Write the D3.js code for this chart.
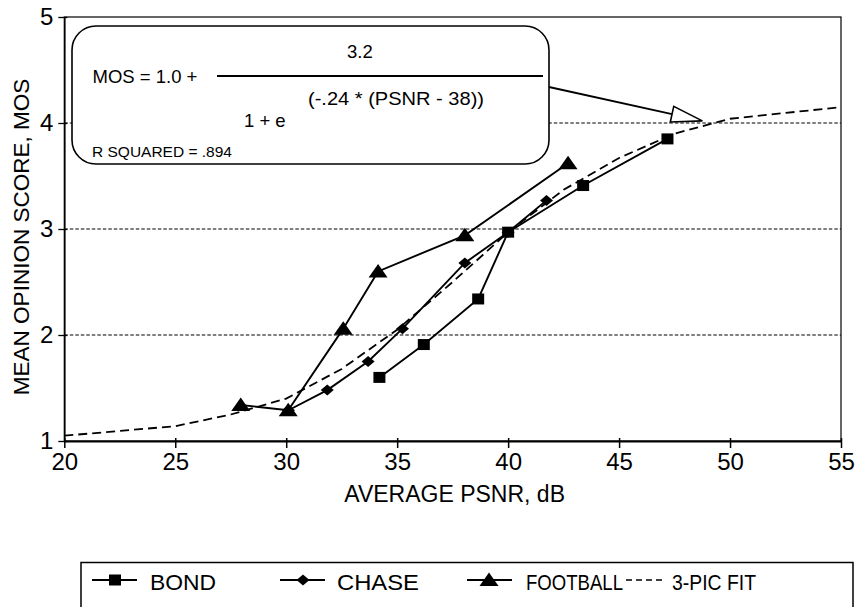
<!DOCTYPE html>
<html>
<head>
<meta charset="utf-8">
<script src="https://cdn.jsdelivr.net/npm/d3@7"></script>
<style>
  body { margin: 0; background: #fff; }
  svg, svg text { font-family: "Liberation Sans", Arial, Helvetica, sans-serif; }
</style>
</head>
<body>
<svg id="chart" width="860" height="607"></svg>
<script>
// data (PSNR in dB, MOS score)
const bondPsnr = [34.2, 36.2, 38.65, 40.0, 43.38, 47.18];
const bondMos = [1.60, 1.91, 2.34, 2.97, 3.41, 3.85];

const chasePsnr = [30.1, 31.85, 33.69, 35.24, 38.05, 40.0, 41.73];
const chaseMos = [1.29, 1.48, 1.75, 2.06, 2.68, 2.97, 3.27];

const footballPsnr = [27.95, 30.09, 32.57, 34.14, 38.05, 42.7];
const footballMos = [1.34, 1.29, 2.06, 2.6, 2.94, 3.62];

// 3-pic fit curve, read as points
const fitPsnr = [20, 25, 27.5, 30, 32.5, 35, 37.5, 40, 42.5, 45, 47.5, 50, 55];
const fitMos = [1.05, 1.14, 1.25, 1.40, 1.68, 2.05, 2.50, 2.97, 3.37, 3.67, 3.90, 4.04, 4.15];

const xTicks = [20, 25, 30, 35, 40, 45, 50, 55];
const yTicks = [1, 2, 3, 4, 5];
const gridValues = [2, 3, 4];

const legendNames = ['BOND', 'CHASE', 'FOOTBALL', '3-PIC FIT'];

const SVG = d3.select('#chart');
// plot area
const LEFT = 64.3;
const RIGHT = 841;
const TOP = 17;
const BOTTOM = 441;

const X_SCALE = d3.scaleLinear().domain([20, 55]).range([LEFT, RIGHT]);
const Y_SCALE = d3.scaleLinear().domain([1, 5]).range([BOTTOM, TOP]);

const zip = (xs, ys) => xs.map((x, i) => ({ x: x, y: ys[i] }));

// custom marker shapes
const squareShape = { draw(ctx) { ctx.rect(-6, -5.5, 12, 11); } };
const triangleShape = { draw(ctx) { ctx.moveTo(0, -7.5); ctx.lineTo(9.5, 6); ctx.lineTo(-9.5, 6); ctx.closePath(); } };
const diamondShape = { draw(ctx) { ctx.moveTo(-6.5, 0); ctx.lineTo(0, -5.5); ctx.lineTo(6.5, 0); ctx.lineTo(0, 5.5); ctx.closePath(); } };

// gridlines
SVG.append('g')
    .attr('id', 'grid')
    .selectAll('line')
    .data(gridValues)
    .join('line')
    .attr('x1', LEFT)
    .attr('x2', RIGHT)
    .attr('y1', d => Y_SCALE(d))
    .attr('y2', d => Y_SCALE(d))
    .style('stroke', '#000')
    .style('stroke-width', 1.1)
    .style('stroke-dasharray', '3.5,2');

// frame
SVG.append('rect')
    .attr('x', LEFT).attr('y', TOP)
    .attr('width', RIGHT - LEFT).attr('height', BOTTOM - TOP)
    .style('fill', 'none').style('stroke', '#000').style('stroke-width', 1.2);

// x axis
const X_AXIS = d3.axisBottom(X_SCALE).tickValues(xTicks).tickFormat(d3.format('d'))
    .tickSize(7).tickSizeOuter(0).tickPadding(5);
const xg = SVG.append('g').attr('id', 'xAxis').attr('transform', `translate(0,${BOTTOM})`).call(X_AXIS);
xg.attr('font-family', null);
xg.select('.domain').attr('stroke-width', 2.2);
xg.selectAll('.tick line').attr('y1', -3).attr('stroke-width', 1.5);
xg.selectAll('.tick text').style('font-size', '24px').style('fill', '#000');

// y axis
const Y_AXIS = d3.axisLeft(Y_SCALE).tickValues(yTicks).tickFormat(d3.format('d'))
    .tickSize(6).tickSizeOuter(0).tickPadding(5);
const yg = SVG.append('g').attr('id', 'yAxis').attr('transform', `translate(${LEFT},0)`).call(Y_AXIS);
yg.attr('font-family', null);
yg.select('.domain').attr('stroke-width', 1.6);
yg.selectAll('.tick line').attr('x1', 3).attr('stroke-width', 1.3);
yg.selectAll('.tick text').style('font-size', '24px').style('fill', '#000');

// axis titles
SVG.append('text')
    .attr('x', (LEFT + RIGHT) / 2 + 2)
    .attr('y', 502)
    .attr('text-anchor', 'middle')
    .style('font-size', '23px')
    .text('AVERAGE PSNR, dB');

SVG.append('text')
    .attr('transform', 'translate(29,237) rotate(-90)')
    .attr('text-anchor', 'middle')
    .style('font-size', '22.5px')
    .text('MEAN OPINION SCORE, MOS');

// fit curve
const line = d3.line().x(d => X_SCALE(d.x)).y(d => Y_SCALE(d.y));

SVG.append('path')
    .datum(zip(fitPsnr, fitMos))
    .attr('d', line)
    .style('fill', 'none')
    .style('stroke', '#000')
    .style('stroke-width', 1.8)
    .style('stroke-dasharray', '9,5');

const seriesList = [
    { name: 'BOND', data: zip(bondPsnr, bondMos), shape: squareShape },
    { name: 'CHASE', data: zip(chasePsnr, chaseMos), shape: diamondShape },
    { name: 'FOOTBALL', data: zip(footballPsnr, footballMos), shape: triangleShape }
];

seriesList.forEach(s => {
    SVG.append('path')
        .datum(s.data)
        .attr('d', line)
        .style('fill', 'none')
        .style('stroke', '#000')
        .style('stroke-width', 1.9);
    SVG.append('g')
        .selectAll('path')
        .data(s.data)
        .join('path')
        .attr('transform', d => `translate(${X_SCALE(d.x)},${Y_SCALE(d.y)})`)
        .attr('d', d3.symbol(s.shape)())
        .style('fill', '#000');
});

// formula box
const BOX = { x: 72, y: 26, w: 477, h: 138 };
SVG.append('rect')
    .attr('x', BOX.x).attr('y', BOX.y)
    .attr('width', BOX.w).attr('height', BOX.h)
    .attr('rx', 24).attr('ry', 24)
    .style('fill', '#fff').style('stroke', '#000').style('stroke-width', 1.6);

const boxText = (x, y, size, str, len) => {
    const t = SVG.append('text')
        .attr('x', x).attr('y', y)
        .style('font-size', size + 'px')
        .text(str);
    if (len) t.attr('textLength', len).attr('lengthAdjust', 'spacingAndGlyphs');
    return t;
};

boxText(92.5, 83, 18.5, 'MOS = 1.0 +');
boxText(347, 58, 18.5, '3.2');
SVG.append('line')
    .attr('x1', 217).attr('x2', 543)
    .attr('y1', 76).attr('y2', 76)
    .style('stroke', '#000').style('stroke-width', 1.8);
boxText(308, 105, 18.5, '(-.24 * (PSNR - 38))', 176);
boxText(244, 127, 18.5, '1 + e');
boxText(92, 157, 15.5, 'R SQUARED = .894');

// arrow to the curve crossing at MOS 4
const arrowStart = [549, 87];
const arrowTip = [X_SCALE(48.75), Y_SCALE(4.02)];
const ang = Math.atan2(arrowTip[1] - arrowStart[1], arrowTip[0] - arrowStart[0]);
const headLen = 31, headHalf = 8;
const baseX = arrowTip[0] - headLen * Math.cos(ang);
const baseY = arrowTip[1] - headLen * Math.sin(ang);
SVG.append('line')
    .attr('x1', arrowStart[0]).attr('y1', arrowStart[1])
    .attr('x2', baseX).attr('y2', baseY)
    .style('stroke', '#000').style('stroke-width', 1.8);
SVG.append('path')
    .attr('d', `M${arrowTip[0]},${arrowTip[1]}`
        + `L${baseX - headHalf * Math.sin(ang)},${baseY + headHalf * Math.cos(ang)}`
        + `L${baseX + headHalf * Math.sin(ang)},${baseY - headHalf * Math.cos(ang)}Z`)
    .style('fill', '#fff').style('stroke', '#000').style('stroke-width', 1.6);

// legend
const LEG = SVG.append('g').attr('id', 'legend');
LEG.append('rect')
    .attr('x', 81).attr('y', 562.5)
    .attr('width', 772).attr('height', 60)
    .style('fill', 'none').style('stroke', '#000').style('stroke-width', 1.5);

const legendItems = [
    { x1: 92, x2: 137, mx: 115, tx: 150, tw: 66, shape: squareShape, dash: null },
    { x1: 280, x2: 325, mx: 303, tx: 337, tw: 82, shape: diamondShape, dash: null },
    { x1: 467, x2: 512, mx: 489, tx: 526, tw: 97, shape: triangleShape, dash: null },
    { x1: 626, x2: 666, mx: null, tx: 672, tw: 84, shape: null, dash: '6,4' }
];
const LEG_Y = 580;
legendItems.forEach((it, i) => {
    LEG.append('line')
        .attr('x1', it.x1).attr('x2', it.x2)
        .attr('y1', LEG_Y).attr('y2', LEG_Y)
        .style('stroke', '#000')
        .style('stroke-width', it.dash ? 1.4 : 1.9)
        .style('stroke-dasharray', it.dash);
    if (it.shape) {
        LEG.append('path')
            .attr('transform', `translate(${it.mx},${LEG_Y})`)
            .attr('d', d3.symbol(it.shape)())
            .style('fill', '#000');
    }
    LEG.append('text')
        .attr('x', it.tx).attr('y', 590)
        .attr('textLength', it.tw)
        .attr('lengthAdjust', 'spacingAndGlyphs')
        .style('font-size', '22.5px')
        .text(legendNames[i]);
});
</script>
</body>
</html>
